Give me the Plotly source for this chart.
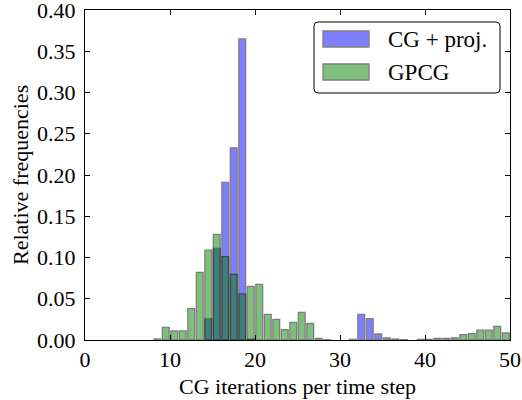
import plotly.graph_objects as go

# ---- data (relative frequency per integer bin [n, n+1)) ----
bin_left = list(range(50))
cg_proj = [0, 0, 0, 0, 0, 0, 0, 0, 0, 0,
           0, 0, 0, 0, 0.0255, 0.111, 0.191, 0.233, 0.365, 0.001,
           0, 0, 0, 0, 0, 0, 0, 0, 0, 0,
           0, 0, 0.031, 0.026, 0.0073, 0.0024, 0.0012, 0.0005, 0, 0,
           0, 0, 0, 0, 0, 0, 0, 0, 0, 0]
gpcg = [0, 0, 0, 0, 0, 0, 0, 0, 0.0012, 0.0154,
        0.011, 0.011, 0.038, 0.082, 0.109, 0.128, 0.101, 0.0796, 0.056, 0.065,
        0.0675, 0.031, 0.025, 0.0125, 0.0214, 0.0335, 0.020, 0.002, 0.0003, 0,
        0, 0.0008, 0, 0, 0, 0, 0, 0, 0, 0.0008,
        0.0008, 0.0018, 0.0018, 0.0024, 0.0065, 0.0077, 0.012, 0.012, 0.0166, 0.0085]
series_names = ["CG + proj.", "GPCG"]
x_ticks = [0, 10, 20, 30, 40, 50]
y_ticks = [0.00, 0.05, 0.10, 0.15, 0.20, 0.25, 0.30, 0.35, 0.40]

FONT = "Liberation Serif"
FS = 22
colors = ["rgb(0,0,255)", "rgb(0,128,0)"]

fig = go.Figure()
for name, vals, col in zip(series_names, [cg_proj, gpcg], colors):
    xs = [b + 0.5 for b, v in zip(bin_left, vals) if v > 0]
    ys = [v for v in vals if v > 0]
    fig.add_trace(go.Bar(
        x=xs, y=ys, width=0.8, name=name,
        marker=dict(color=col, opacity=0.5, line=dict(color="black", width=1.3)),
        showlegend=False,
    ))

# plot area geometry in pixels
W, H = 522, 400
L, R, T, B = 85, 12, 10, 60
pw, ph = W - L - R, H - T - B

def px(x):
    return (x - L) / pw

def py(y):
    return (H - B - y) / ph

fig.update_layout(
    width=W, height=H,
    margin=dict(l=L, r=R, t=T, b=B, autoexpand=False),
    barmode="overlay",
    plot_bgcolor="white", paper_bgcolor="white",
    font=dict(family=FONT, size=FS, color="black"),
    xaxis=dict(range=[0, 50], tickvals=x_ticks, ticktext=[str(t) for t in x_ticks],
               showgrid=False, zeroline=False, showline=True, linecolor="black", linewidth=1,
               mirror="ticks", ticks="inside", ticklen=5, tickcolor="black",
               ticklabeloverflow="allow", ticklabelstandoff=0,
               tickfont=dict(family=FONT, size=FS), automargin=False),
    yaxis=dict(range=[0, 0.4000001], tickvals=y_ticks, ticktext=[f"{t:.2f}" for t in y_ticks],
               showgrid=False, zeroline=False, showline=True, linecolor="black", linewidth=1,
               mirror="ticks", ticks="inside", ticklen=5, tickcolor="black",
               ticklabeloverflow="allow",
               tickfont=dict(family=FONT, size=FS), ticklabelstandoff=4, automargin=False),
)

# axis titles
fig.add_annotation(text="CG iterations per time step", xref="paper", yref="paper",
                   x=0.5, y=py(386), xanchor="center", yanchor="middle", showarrow=False,
                   font=dict(family=FONT, size=FS))
fig.add_annotation(text="Relative frequencies", xref="paper", yref="paper",
                   x=px(20), y=0.5, xanchor="center", yanchor="middle", textangle=-90,
                   showarrow=False, font=dict(family=FONT, size=FS))

# legend (drawn manually to match wide swatches)
bx0, bx1, by0, by1, r = 314, 500, 22, 93, 4
path = (f"M {px(bx0+r)},{py(by0)} L {px(bx1-r)},{py(by0)} "
        f"Q {px(bx1)},{py(by0)} {px(bx1)},{py(by0+r)} L {px(bx1)},{py(by1-r)} "
        f"Q {px(bx1)},{py(by1)} {px(bx1-r)},{py(by1)} L {px(bx0+r)},{py(by1)} "
        f"Q {px(bx0)},{py(by1)} {px(bx0)},{py(by1-r)} L {px(bx0)},{py(by0+r)} "
        f"Q {px(bx0)},{py(by0)} {px(bx0+r)},{py(by0)} Z")
fig.add_shape(type="path", path=path, xref="paper", yref="paper",
              line=dict(color="black", width=1), fillcolor="white", layer="above")
for i, (name, col) in enumerate(zip(series_names, colors)):
    cy = 39 + i * 33
    fig.add_shape(type="rect", xref="paper", yref="paper",
                  x0=px(323), x1=px(369), y0=py(cy - 8), y1=py(cy + 8),
                  fillcolor=col, opacity=0.5, line=dict(color="black", width=1.3),
                  layer="above")
    fig.add_annotation(text=name, xref="paper", yref="paper", x=px(386), y=py(cy),
                       xanchor="left", yanchor="middle", showarrow=False,
                       font=dict(family=FONT, size=23))

fig.write_html("out.html",
               config={"displayModeBar": False},
               post_script="document.body.style.margin='0';document.body.style.overflow='hidden';")
